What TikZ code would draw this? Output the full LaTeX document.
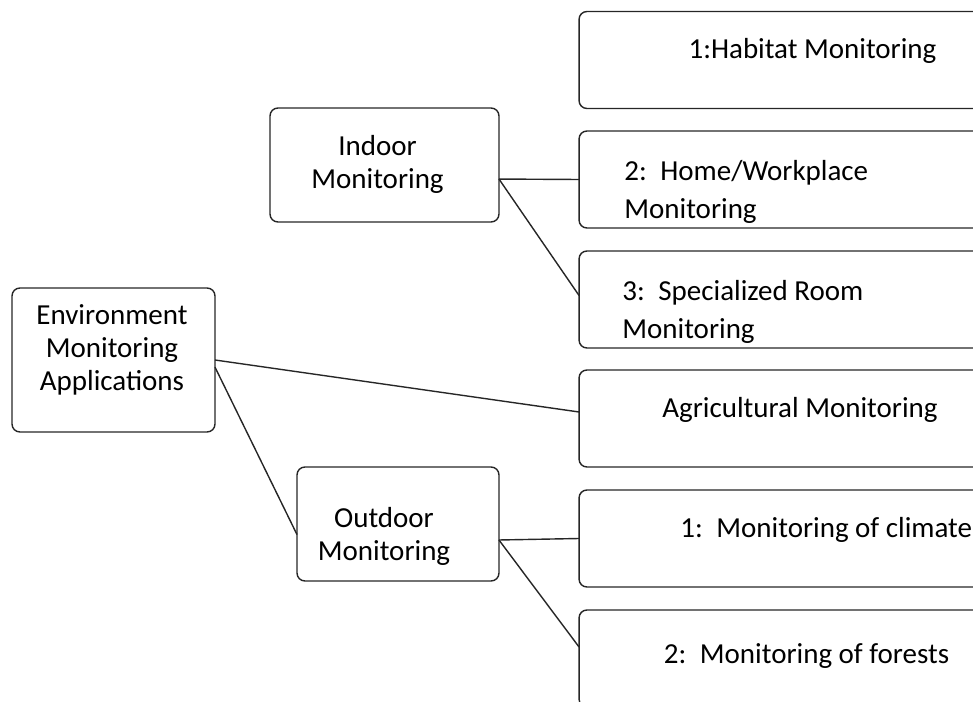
\documentclass[tikz,border=0pt]{standalone}
\usepackage{fontspec}
\setmainfont{Carlito}
\begin{document}
\begin{tikzpicture}[x=0.02cm,y=-0.02cm,
    box/.style={draw=black!85,line width=0.8pt,rounded corners=4.5pt,inner sep=0pt,outer sep=0pt},
    leftbox/.style={box,minimum height=2.28cm},
    rightbox/.style={box,minimum width=9.4cm,minimum height=1.94cm},
    lefttext/.style={align=center,inner sep=0pt,font=\fontsize{16.5}{18.8}\selectfont},
    righttext/.style={align=left,inner sep=0pt,font=\fontsize{16.5}{21.4}\selectfont},
    link/.style={draw=black!85,line width=0.8pt}]
    \clip (0,0) rectangle (973,702);
    \node[box,minimum width=4.06cm,minimum height=2.88cm] (env) at (113.5,360) {};
    \node[leftbox,minimum width=4.58cm] (indoor) at (384.5,165) {};
    \node[leftbox,minimum width=4.04cm] (outdoor) at (398,524) {};
    \node[rightbox] (habitat) at (814,60) {};
    \node[rightbox] (home) at (814,179.5) {};
    \node[rightbox] (room) at (814,299.5) {};
    \node[rightbox] (agri) at (814,418.5) {};
    \node[rightbox] (climate) at (814,538.5) {};
    \node[rightbox] (forest) at (814,658.5) {};
    \node[lefttext] (envtext) at (112,350) {Environment\\Monitoring\\Applications};
    \node[lefttext] (indoortext) at (377.5,164) {Indoor\\Monitoring};
    \node[lefttext] (outdoortext) at (384,536) {Outdoor\\Monitoring};
    \node[righttext] (habitattext) at (812.5,51) {1:Habitat Monitoring};
    \node[righttext,anchor=west] (hometext) at (624,192) {2:\, Home/Workplace\\Monitoring};
    \node[righttext,anchor=west] (roomtext) at (622,312) {3:\, Specialized Room\\Monitoring};
    \node[righttext] (agritext) at (800,410) {Agricultural Monitoring};
    \node[righttext,anchor=west] (climatetext) at (680,530) {1:\, Monitoring of climate};
    \node[righttext] (foresttext) at (806.5,656) {2:\, Monitoring of forests};
    \draw[link] (indoor.-7) -- (home.west);
    \draw[link] (indoor.-7) -- ([yshift=0.08cm]room.west);
    \draw[link] (env.east) -- ([yshift=0.13cm]agri.west);
    \draw[link] (env.-4) -- (outdoor.186);
    \draw[link] (outdoor.-9) -- (climate.west);
    \draw[link] (outdoor.-9) -- ([yshift=0.23cm]forest.west);
\end{tikzpicture}
\end{document}
